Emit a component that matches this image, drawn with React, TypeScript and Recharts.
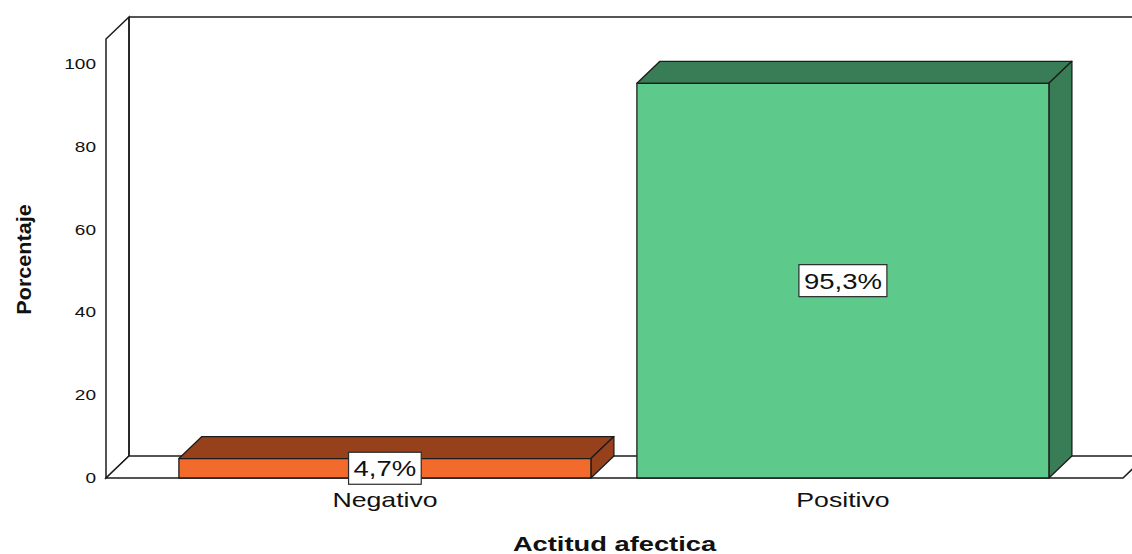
import { Bar, BarChart, LabelList, ReferenceArea, XAxis, YAxis } from 'recharts';

const categories = ['Negativo', 'Positivo'];
const percentages = [4.7, 95.3];
const yTicks = [0, 20, 40, 60, 80, 100];
const Y_MAX = 106;

const frontColors = ['#F26A2C', '#5DCA8B'];
const depthColors = ['#96401C', '#387D55'];

const data = categories.map((name, i) => ({ name, value: percentages[i] }));

// depth of the fake 3D projection
const DX = 23;
const DY = 22;
// empty floor on each side of the category bands
const PAD_L = 50;
const PAD_R = 51;
const FONT = '"Liberation Sans", Arial, sans-serif';
const EDGE = '#1c1c1c';
const SX = 1.27; // horizontal stretch of the labels

// Arial advance widths for the value labels, in em
const CHAR_W: Record<string, number> = { ',': 0.278, '%': 0.889 };

function fmt(v: number) {
  return `${v.toFixed(1).replace('.', ',')}%`;
}

function WideText({ x, y, text, size, anchor = 'middle', bold = false, sx = SX, rotate = 0 }: any) {
  return (
    <g transform={`translate(${x},${y}) rotate(${rotate}) scale(${sx},1)`}>
      <text
        x={0}
        y={0}
        textAnchor={anchor}
        fontFamily={FONT}
        fontSize={size}
        fontWeight={bold ? 'bold' : 'normal'}
        fill="#111"
      >
        {text}
      </text>
    </g>
  );
}

// side wall, floor and back wall; the area only covers the padded band range
function Frame({ x, y, width, height }: any) {
  const l = x - PAD_L;
  const t = y;
  const r = x + width + PAD_R;
  const b = y + height;
  const wall = { stroke: EDGE, strokeWidth: 1.5, fill: '#fff' };
  const line = { stroke: EDGE, strokeWidth: 1.5, fill: 'none' };
  return (
    <g>
      <polygon points={`${l},${t} ${l + DX},${t - DY} ${l + DX},${b - DY} ${l},${b}`} {...wall} />
      <polygon points={`${l},${b} ${l + DX},${b - DY} ${r + DX},${b - DY} ${r},${b}`} {...wall} />
      <line x1={l + DX} y1={t - DY} x2={r + DX} y2={t - DY} {...line} />
      <line x1={l + DX} y1={t - DY} x2={l + DX} y2={b - DY} {...line} />
    </g>
  );
}

function Bar3D(props: any) {
  const { x, y, width, height, payload } = props;
  const i = Math.max(0, categories.indexOf(payload?.name));
  const r = x + width;
  const b = y + height;
  return (
    <g stroke={EDGE} strokeWidth={1.3} strokeLinejoin="round">
      <polygon points={`${x},${y} ${x + DX},${y - DY} ${r + DX},${y - DY} ${r},${y}`} fill={depthColors[i]} />
      <polygon points={`${r},${y} ${r + DX},${y - DY} ${r + DX},${b - DY} ${r},${b}`} fill={depthColors[i]} />
      <rect x={x} y={y} width={width} height={height} fill={frontColors[i]} />
    </g>
  );
}

function ValueBox(props: any) {
  const { x, y, width, height, value } = props;
  const text = fmt(Number(value));
  const size = 22;
  const sx = 1.25;
  const em = text.split('').reduce((s, c) => s + (CHAR_W[c] ?? 0.556), 0);
  const w = em * size * sx + 10;
  const h = 32;
  const cx = x + width / 2;
  const cy = y + height / 2;
  return (
    <g>
      <rect x={cx - w / 2} y={cy - h / 2} width={w} height={h} fill="#fff" stroke="#2a2a2a" strokeWidth={1.2} />
      <WideText x={cx} y={cy + 8} text={text} size={size} sx={sx} />
    </g>
  );
}

function YTick({ x, y, payload }: any) {
  return <WideText x={x} y={y + 5} text={String(payload.value)} size={15} anchor="end" />;
}

function XTick({ x, y, payload }: any) {
  return <WideText x={x} y={y + 29} text={payload.value} size={21} />;
}

export default function App() {
  return (
    <div style={{ position: 'absolute', left: 0, top: 0, width: 1132, height: 554, background: '#fff' }}>
      <BarChart
        width={1132}
        height={554}
        data={data}
        margin={{ top: 39, right: 9, left: 0, bottom: 0 }}
        barCategoryGap="5%"
      >
        <XAxis
          dataKey="name"
          height={76}
          padding={{ left: PAD_L, right: PAD_R }}
          axisLine={false}
          tickLine={false}
          tickSize={0}
          tickMargin={0}
          tick={<XTick />}
          label={{
            position: 'insideBottom',
            content: ({ viewBox }: any) => (
              <WideText
                x={viewBox.x + viewBox.width / 2}
                y={viewBox.y + 73}
                text="Actitud afectica"
                size={21}
                bold
                sx={1.3}
              />
            ),
          }}
        />
        <YAxis
          type="number"
          domain={[0, Y_MAX]}
          ticks={yTicks}
          width={106}
          axisLine={false}
          tickLine={false}
          tickSize={0}
          tickMargin={10}
          tick={<YTick />}
          label={{
            position: 'insideLeft',
            content: ({ viewBox }: any) => (
              <WideText
                x={31}
                y={viewBox.y + viewBox.height / 2 + 1}
                text="Porcentaje"
                size={20}
                bold
                sx={1.08}
                rotate={-90}
              />
            ),
          }}
        />
        <ReferenceArea y1={0} y2={Y_MAX} ifOverflow="visible" shape={(p: any) => <Frame {...p} />} />
        <Bar dataKey="value" isAnimationActive={false} shape={(p: any) => <Bar3D {...p} />}>
          <LabelList dataKey="value" content={(p: any) => <ValueBox {...p} />} />
        </Bar>
      </BarChart>
    </div>
  );
}
